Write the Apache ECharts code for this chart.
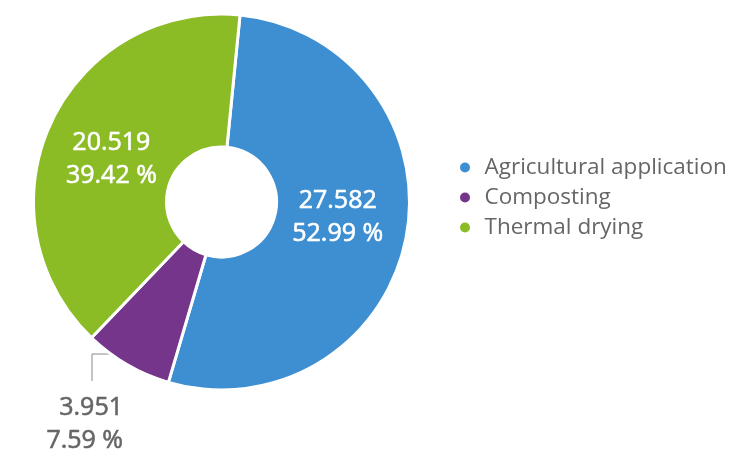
<!DOCTYPE html>
<html>
<head>
<meta charset="utf-8">
<style>
  html, body { margin: 0; padding: 0; background: #fff; }
  #chart { width: 732px; height: 450px; }
</style>
<script src="https://cdn.jsdelivr.net/npm/echarts@6/dist/echarts.min.js"></script>
</head>
<body>
<div id="chart"></div>
<script>
// Sludge disposal routes
const categories = ['Agricultural application', 'Composting', 'Thermal drying'];
const values = [27.582, 3.951, 20.519];
const colors = ['#3d8fd1', '#74358a', '#8bbb25'];

const FONT = '"Open Sans", "Noto Sans", sans-serif';

// nudges for the labels drawn inside the ring
const insideOffsets = [[-6, -8], null, [3, 9]];

const chart = echarts.init(document.getElementById('chart'));

const data = categories.map((name, i) => {
  const item = { name: name, value: values[i], itemStyle: { color: colors[i] } };
  if (i === 1) {
    // small slice: label sits below the ring with a leader line
    item.label = { position: 'outside', color: '#666', textBorderColor: '#666', align: 'right' };
    item.labelLine = { show: true };
  } else {
    item.label = { offset: insideOffsets[i] };
  }
  return item;
});

chart.setOption({
  animation: false,
  legend: {
    orient: 'vertical',
    left: 453,
    top: 151,
    icon: 'circle',
    itemWidth: 29,
    itemHeight: 12,
    itemGap: 7,
    data: categories,
    textStyle: { fontFamily: FONT, fontSize: 22.5, color: '#666' }
  },
  series: [{
    type: 'pie',
    center: [221.5, 202],
    radius: [55, 188],
    startAngle: 84.35,
    clockwise: true,
    avoidLabelOverlap: false,
    itemStyle: { borderColor: '#fff', borderWidth: 3 },
    label: {
      show: true,
      position: 'inside',
      formatter: '{c}\n{d} %',
      fontFamily: FONT,
      fontSize: 25,
      lineHeight: 33,
      color: '#fff',
      textBorderColor: '#fff',
      textBorderWidth: 0.6,
      align: 'right'
    },
    labelLine: {
      show: false,
      lineStyle: { color: '#888', width: 1 }
    },
    labelLayout: function (params) {
      if (params.dataIndex !== 1) return {};
      return {
        x: 123,
        y: 424,
        align: 'right',
        verticalAlign: 'middle',
        labelLinePoints: [[110, 354], [92, 354], [92, 381]]
      };
    },
    data: data
  }]
});
</script>
</body>
</html>
